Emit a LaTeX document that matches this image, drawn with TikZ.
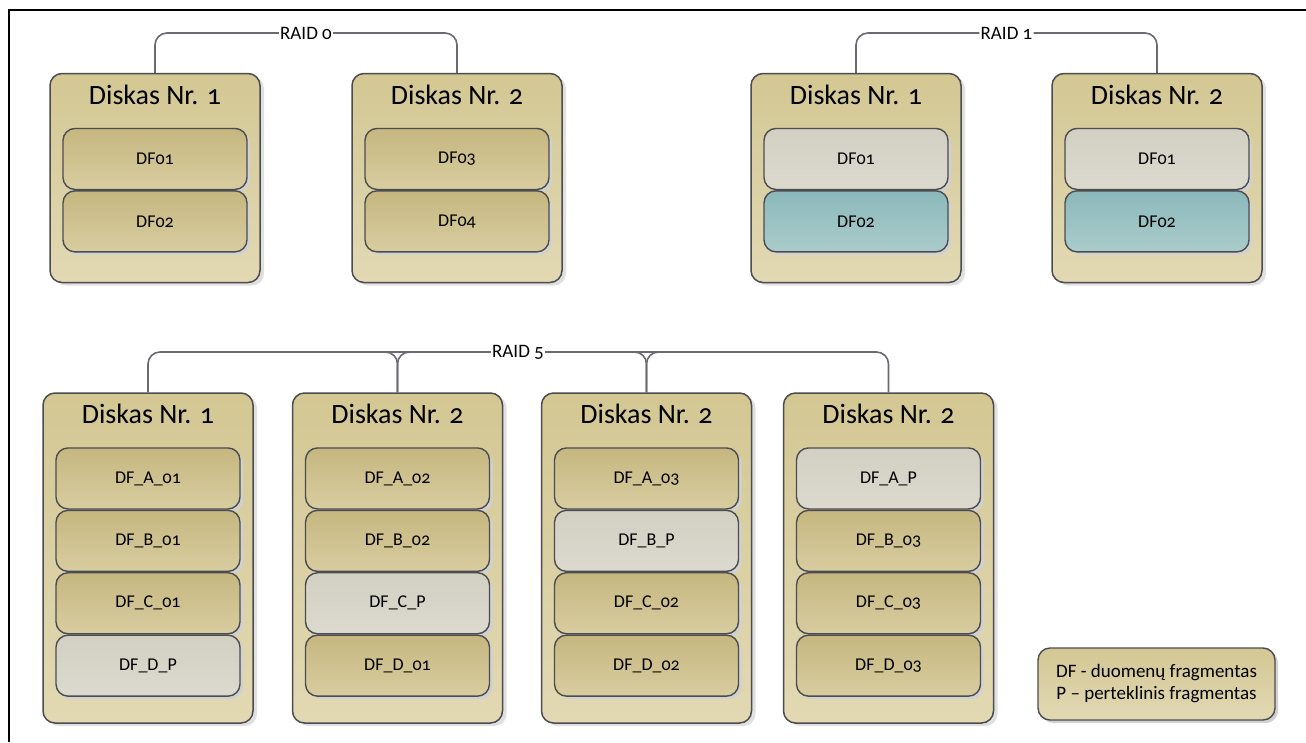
\documentclass[tikz,border=0pt]{standalone}
\usepackage{fontspec}
\setmainfont{Carlito}[Numbers=OldStyle]
\usetikzlibrary{positioning, shadows}

\definecolor{diskA}{HTML}{D3C793}
\definecolor{diskB}{HTML}{E2D9B4}
\definecolor{tanA}{HTML}{C6B780}
\definecolor{tanB}{HTML}{D8CDA0}
\definecolor{greyA}{HTML}{D2D0C3}
\definecolor{greyB}{HTML}{DCDACE}
\definecolor{tealA}{HTML}{8CB8BB}
\definecolor{tealB}{HTML}{AACCCB}
\definecolor{edgec}{HTML}{4C4C50}
\definecolor{wirec}{HTML}{6A6A70}

\tikzset{
  disk/.style={draw=edgec, line width=1.5pt, rounded corners=12pt,
    minimum width=210pt, inner sep=0pt, top color=diskA, bottom color=diskB,
    drop shadow={shadow xshift=4pt, shadow yshift=-3pt, fill=black!12, opacity=1}},
  diskhi/.style={disk, minimum height=209pt},
  disklo/.style={disk, minimum height=330pt},
  title/.style={font=\fontsize{28}{32}\selectfont, inner sep=0pt},
  part/.style={draw=edgec, line width=1.4pt, rounded corners=12pt,
    minimum width=184pt, minimum height=61pt, inner sep=0pt,
    font=\fontsize{18}{21}\selectfont,
    drop shadow={shadow xshift=3pt, shadow yshift=-3pt, fill=black!18, opacity=1}},
  databox/.style={part, top color=tanA, bottom color=tanB},
  paritybox/.style={part, top color=greyA, bottom color=greyB},
  mirrorbox/.style={part, top color=tealA, bottom color=tealB},
  raid/.style={font=\fontsize{19}{22}\selectfont, inner sep=1pt},
  wire/.style={draw=wirec, line width=1.6pt, rounded corners=12pt}
}

\begin{document}
\begin{tikzpicture}[x=1pt, y=-1pt]
    \useasboundingbox (0,0) rectangle (1306,742);

    % frame (top and left edge only)
    \draw[line width=2pt] (9,742) -- (9,10) -- (1306,10);

    % RAID 0
    \node[diskhi] (d01) at (155,178) {};
    \node[title, below=12pt of d01.north] (t01) {Diskas Nr. 1};
    \node[databox, below=55pt of d01.north] (p01a) {DF01};
    \node[databox, below=0pt of p01a] (p01b) {DF02};

    \node[diskhi] (d02) at (457,178) {};
    \node[title, below=12pt of d02.north] (t02) {Diskas Nr. 2};
    \node[databox, below=55pt of d02.north] (p02a) {DF03};
    \node[databox, below=0pt of p02a] (p02b) {DF04};

    \node[raid] (r0) at (306,33) {RAID 0};
    \draw[wire] (d01.north) |- (r0.west);
    \draw[wire] (r0.east) -| (d02.north);

    % RAID 1
    \node[diskhi] (d11) at (856,178) {};
    \node[title, below=12pt of d11.north] (t11) {Diskas Nr. 1};
    \node[paritybox, below=55pt of d11.north] (p11a) {DF01};
    \node[mirrorbox, below=0pt of p11a] (p11b) {DF02};

    \node[diskhi] (d12) at (1157,178) {};
    \node[title, below=12pt of d12.north] (t12) {Diskas Nr. 2};
    \node[paritybox, below=55pt of d12.north] (p12a) {DF01};
    \node[mirrorbox, below=0pt of p12a] (p12b) {DF02};

    \node[raid] (r1) at (1006.5,33) {RAID 1};
    \draw[wire] (d11.north) |- (r1.west);
    \draw[wire] (r1.east) -| (d12.north);

    % RAID 5
    \node[disklo] (d51) at (148,558) {};
    \node[title, below=12pt of d51.north] (t51) {Diskas Nr. 1};
    \node[databox, below=55pt of d51.north] (p51a) {DF\_A\_01};
    \node[databox, below=0pt of p51a] (p51b) {DF\_B\_01};
    \node[databox, below=0pt of p51b] (p51c) {DF\_C\_01};
    \node[paritybox, below=0pt of p51c] (p51d) {DF\_D\_P};

    \node[disklo] (d52) at (397.5,558) {};
    \node[title, below=12pt of d52.north] (t52) {Diskas Nr. 2};
    \node[databox, below=55pt of d52.north] (p52a) {DF\_A\_02};
    \node[databox, below=0pt of p52a] (p52b) {DF\_B\_02};
    \node[paritybox, below=0pt of p52b] (p52c) {DF\_C\_P};
    \node[databox, below=0pt of p52c] (p52d) {DF\_D\_01};

    \node[disklo] (d53) at (646.5,558) {};
    \node[title, below=12pt of d53.north] (t53) {Diskas Nr. 2};
    \node[databox, below=55pt of d53.north] (p53a) {DF\_A\_03};
    \node[paritybox, below=0pt of p53a] (p53b) {DF\_B\_P};
    \node[databox, below=0pt of p53b] (p53c) {DF\_C\_02};
    \node[databox, below=0pt of p53c] (p53d) {DF\_D\_02};

    \node[disklo] (d54) at (888.5,558) {};
    \node[title, below=12pt of d54.north] (t54) {Diskas Nr. 2};
    \node[paritybox, below=55pt of d54.north] (p54a) {DF\_A\_P};
    \node[databox, below=0pt of p54a] (p54b) {DF\_B\_03};
    \node[databox, below=0pt of p54b] (p54c) {DF\_C\_03};
    \node[databox, below=0pt of p54c] (p54d) {DF\_D\_03};

    \node[raid] (r5) at (518,352) {RAID 5};
    \draw[wire] (d51.north) |- (r5.west);
    \draw[wire] (r5.west) -| (d52.north);
    \draw[wire] (d52.north) |- ([xshift=-20pt]d52.north |- r5.west);
    \draw[wire] (r5.east) -| (d54.north);
    \draw[wire] (r5.east) -| (d53.north);
    \draw[wire] (d53.north) |- ([xshift=20pt]d53.north |- r5.east);

    % legend
    \node[part, top color=diskA, bottom color=diskB, minimum width=237pt,
      minimum height=72pt, align=center, font=\fontsize{19}{22}\selectfont]
      (key) at (1156.5,684)
      {DF - duomenų fragmentas\\P – perteklinis fragmentas};

\end{tikzpicture}
\end{document}
